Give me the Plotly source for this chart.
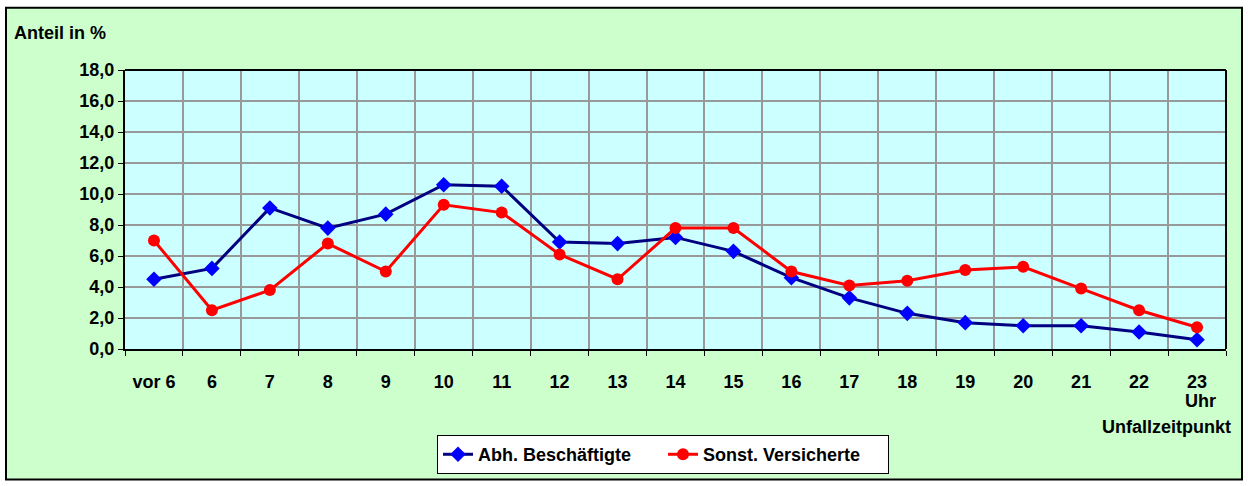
import plotly.graph_objects as go

categories = ["vor 6", "6", "7", "8", "9", "10", "11", "12", "13", "14", "15",
              "16", "17", "18", "19", "20", "21", "22", "23"]
abh_beschaeftigte = [4.5, 5.2, 9.1, 7.8, 8.7, 10.6, 10.5, 6.9, 6.8, 7.2, 6.3,
                     4.6, 3.3, 2.3, 1.7, 1.5, 1.5, 1.1, 0.6]
sonst_versicherte = [7.0, 2.5, 3.8, 6.8, 5.0, 9.3, 8.8, 6.1, 4.5, 7.8, 7.8,
                     5.0, 4.1, 4.4, 5.1, 5.3, 3.9, 2.5, 1.4]

W, H = 1248, 486
L, R, T, B = 125, 1226, 70, 352   # plot area in pixels


def px(p):
    return (p - L) / (R - L)


def py(p):
    return (B - p) / (B - T)


FONT = "Liberation Sans, Arial, sans-serif"
FS = 18

fig = go.Figure()
fig.add_trace(go.Scatter(
    x=categories, y=abh_beschaeftigte, name="Abh. Beschäftigte",
    mode="lines+markers",
    line=dict(color="#000080", width=3),
    marker=dict(symbol="diamond", size=12, color="#0000FF"),
))
fig.add_trace(go.Scatter(
    x=categories, y=sonst_versicherte, name="Sonst. Versicherte",
    mode="lines+markers",
    line=dict(color="#FF0000", width=3),
    marker=dict(symbol="circle", size=12, color="#FF0000"),
))

shapes = [
    dict(type="rect", xref="paper", yref="paper", layer="below",
         x0=px(6), x1=px(1242), y0=py(484), y1=py(7),
         fillcolor="#CCFFCC", line=dict(color="black", width=2)),
    dict(type="rect", xref="paper", yref="paper", layer="below",
         x0=0, x1=1, y0=0, y1=1,
         fillcolor="#CCFFFF", line=dict(width=0)),
    dict(type="line", xref="paper", yref="paper", x0=0, x1=1, y0=1, y1=1,
         line=dict(color="black", width=2)),
    dict(type="line", xref="paper", yref="paper", x0=1, x1=1, y0=0, y1=1,
         line=dict(color="black", width=2)),
]

annotations = [
    dict(text="<b>Anteil in %</b>", xref="paper", yref="paper",
         x=px(12), y=py(33), xanchor="left", yanchor="middle",
         showarrow=False, font=dict(size=FS, color="black", family=FONT)),
    dict(text="<b>Uhr</b>", xref="paper", yref="paper",
         x=px(1200), y=py(405), xanchor="center", yanchor="middle",
         showarrow=False, font=dict(size=FS, color="black", family=FONT)),
    dict(text="<b>Unfallzeitpunkt</b>", xref="paper", yref="paper",
         x=px(1233), y=py(431), xanchor="right", yanchor="middle",
         showarrow=False, font=dict(size=FS, color="black", family=FONT)),
]

fig.update_layout(
    width=W, height=H,
    margin=dict(l=L, r=W - R, t=T, b=H - B, pad=0),
    paper_bgcolor="white",
    plot_bgcolor="rgba(0,0,0,0)",
    separators=",.",
    font=dict(family=FONT, size=FS, color="black", weight="bold"),
    shapes=shapes,
    annotations=annotations,
    showlegend=True,
    legend=dict(
        orientation="h", x=px(663), y=py(439), xanchor="center", yanchor="top",
        bgcolor="white", bordercolor="black", borderwidth=1,
        font=dict(size=FS, family=FONT, weight="bold"),
        itemwidth=30, tracegroupgap=0,
        entrywidthmode="pixels", entrywidth=180,
    ),
    xaxis=dict(
        type="category", range=[-0.5, 18.5],
        tickson="boundaries", ticks="outside", ticklen=5, tickcolor="black",
        tickwidth=1,
        showgrid=True, gridcolor="#999999", gridwidth=1.5,
        showline=True, linecolor="black", linewidth=2, mirror=False,
        ticklabelstandoff=15,
        tickfont=dict(size=FS, family=FONT, weight="bold"),
        fixedrange=True,
    ),
    yaxis=dict(
        range=[0, 18], dtick=2, tick0=0, tickformat=".1f",
        ticks="outside", ticklen=5, tickcolor="black", tickwidth=1,
        showgrid=True, gridcolor="#999999", gridwidth=1.5,
        showline=True, linecolor="black", linewidth=2,
        zeroline=False,
        tickfont=dict(size=FS, family=FONT, weight="bold"),
        fixedrange=True,
    ),
)

fig.write_html("out.html", config={"displayModeBar": False},
               post_script="document.body.style.margin='0';")
